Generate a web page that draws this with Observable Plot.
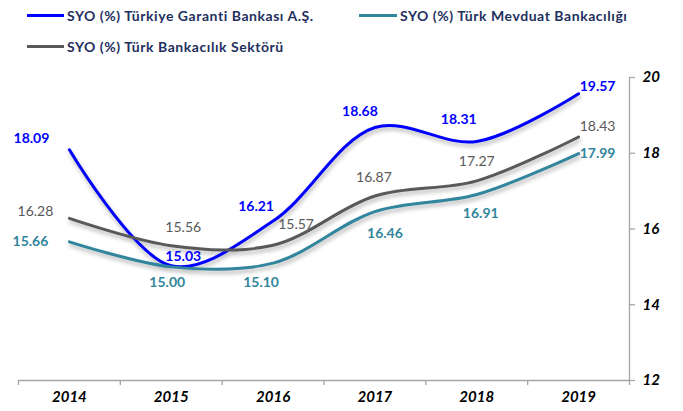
<!DOCTYPE html>
<html>
<head>
<meta charset="utf-8">
<script src="https://cdn.jsdelivr.net/npm/d3@7"></script>
<script src="https://cdn.jsdelivr.net/npm/@observablehq/plot@0.6"></script>
<style>
  html, body { margin: 0; padding: 0; background: #fff; }
  #wrap { position: relative; width: 683px; font-family: Lato, "Open Sans", sans-serif; }
  #legend { position: relative; height: 62px; }
  .item { position: absolute; display: flex; align-items: center; font-size: 14px; letter-spacing: 0.55px; font-weight: bold; color: #1f3060; white-space: nowrap; }
  .swatch { height: 3px; margin-right: 3px; }
</style>
</head>
<body>
<div id="wrap">
  <div id="legend"></div>
  <div id="chart"></div>
</div>
<script>
const years = [2014, 2015, 2016, 2017, 2018, 2019];
const garanti = [18.09, 15.03, 16.21, 18.68, 18.31, 19.57];
const mevduat = [15.66, 15.00, 15.10, 16.46, 16.91, 17.99];
const sektor  = [16.28, 15.56, 15.57, 16.87, 17.27, 18.43];
const seriesNames = [
  "SYO (%) Türkiye Garanti Bankası A.Ş.",
  "SYO (%) Türk Mevduat Bankacılığı",
  "SYO (%) Türk Bankacılık Sektörü"
];
const yTicks = [12, 14, 16, 18, 20];

// styling (kept apart from the data)
const colors = ["#0000ff", "#31859c", "#595959"];
const labelWeights = ["bold", "bold", "normal"];
const labelOffsets = [
  [[-38,-11],[12,-9],[-17,-15],[-15,-16],[-18,-22],[19,-7]],
  [[-39,0],[-4,16],[-12,19],[10,22],[4,19],[19,0]],
  [[-34,-7],[12,-18],[23,-21],[-1,-19],[0,-19],[19,-10]]
];
const legendPos = [[27, 16, 37], [359, 16, 38], [27, 47, 37]];

const values = [garanti, mevduat, sektor];
const data = values.flatMap((vals, s) => years.map((yr, i) => ({series: seriesNames[s], s, year: yr, value: vals[i]})));

// legend
const legend = document.getElementById("legend");
seriesNames.forEach((name, s) => {
  const [x, y, w] = legendPos[s];
  const it = document.createElement("div");
  it.className = "item";
  it.style.left = x + "px";
  it.style.top = (y - 9) + "px";
  it.innerHTML = `<span class="swatch" style="width:${w}px;background:${colors[s]}"></span><span>${name}</span>`;
  legend.appendChild(it);
});

const boundaries = years.map(y => y - 0.5).concat([years[years.length - 1] + 0.5]);
const xDomain = [boundaries[0], boundaries[boundaries.length - 1]];

const labelMarks = [];
data.forEach(d => {
  const i = years.indexOf(d.year);
  const [dx, dy] = labelOffsets[d.s][i];
  labelMarks.push(Plot.text([d], {
    x: "year", y: "value", text: v => v.value.toFixed(2),
    dx, dy, fill: colors[d.s], fontWeight: labelWeights[d.s], fontSize: 14
  }));
});

const chart = Plot.plot({
  width: 683,
  height: 349,
  marginLeft: 18,
  marginRight: 54,
  marginTop: 15,
  marginBottom: 31,
  style: { fontFamily: "Lato, 'Open Sans', sans-serif", background: "#fff" },
  x: { domain: xDomain, axis: null },
  y: { domain: [12, 20], axis: null },
  marks: [
    Plot.ruleY([12], { x1: xDomain[0], x2: xDomain[1], stroke: "#a6a6a6", strokeWidth: 1.3 }),
    Plot.ruleX([xDomain[1]], { y1: 12, y2: 20, stroke: "#a6a6a6", strokeWidth: 1.3 }),
    Plot.axisX({ ticks: boundaries, tickFormat: () => "", tickSize: 5, stroke: "#a6a6a6", strokeWidth: 1.3, label: null }),
    Plot.axisX({ ticks: years, tickFormat: d => String(d), tickSize: 0, tickPadding: 11, fontSize: 15, fontWeight: "bold", fontStyle: "italic", fill: "#000", label: null }),
    Plot.axisY({ anchor: "right", ticks: yTicks, tickFormat: () => "", tickSize: 5, stroke: "#a6a6a6", strokeWidth: 1.3, label: null }),
    Plot.axisY({ anchor: "right", ticks: yTicks, tickFormat: d => String(d), tickSize: 0, tickPadding: 13, fontSize: 15, fontWeight: "bold", fontStyle: "italic", fill: "#000", label: null }),
    Plot.lineY(data, { x: "year", y: "value", z: "series", stroke: d => colors[d.s], strokeWidth: 3, curve: "catmull-rom" }),
    ...labelMarks
  ]
});
document.getElementById("chart").appendChild(chart);
d3.select(chart).selectAll('g[aria-label="line"]').style("filter", "drop-shadow(1px 3px 2px rgba(0,0,0,0.3))");
</script>
</body>
</html>
